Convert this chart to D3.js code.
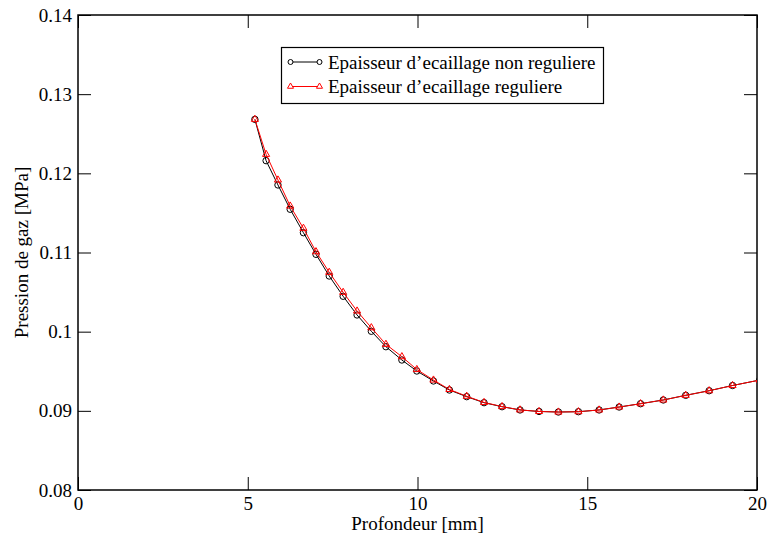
<!DOCTYPE html>
<html>
<head>
<meta charset="utf-8">
<script src="https://cdn.jsdelivr.net/npm/d3@7"></script>
<style>
  html, body { margin: 0; padding: 0; background: #fff; }
  svg { display: block; }
  text { font-family: "Liberation Serif", "Times New Roman", serif; fill: #000; }
</style>
</head>
<body>
<svg id="chart" width="767" height="536"></svg>
<script>
// ---- data ----
const depth = [5.21, 5.54, 5.89, 6.25, 6.64, 7.01, 7.40, 7.81, 8.22, 8.64, 9.07, 9.54, 9.98, 10.47, 10.94, 11.45, 11.96, 12.49, 13.02, 13.58, 14.15, 14.74, 15.35, 15.94, 16.57, 17.24, 17.90, 18.59, 19.28, 20.08];
const pressNonReg = [0.12682, 0.12160, 0.11853, 0.11546, 0.11250, 0.10977, 0.10703, 0.10447, 0.10211, 0.10005, 0.09810, 0.09642, 0.09503, 0.09377, 0.09263, 0.09179, 0.09103, 0.09052, 0.09011, 0.08992, 0.08985, 0.08989, 0.09011, 0.09048, 0.09090, 0.09137, 0.09196, 0.09254, 0.09320, 0.09389];
const pressReg = [0.12682, 0.12240, 0.11916, 0.11587, 0.11306, 0.11010, 0.10750, 0.10497, 0.10261, 0.10050, 0.09840, 0.09684, 0.09522, 0.09389, 0.09270, 0.09184, 0.09106, 0.09054, 0.09012, 0.08992, 0.08985, 0.08989, 0.09011, 0.09048, 0.09090, 0.09137, 0.09196, 0.09254, 0.09320, 0.09389];
const seriesNames = ["Epaisseur d\u2019ecaillage non reguliere", "Epaisseur d\u2019ecaillage reguliere"];
const xTicks = [0, 5, 10, 15, 20];
const xTickLabels = ["0", "5", "10", "15", "20"];
const yTicks = [0.08, 0.09, 0.10, 0.11, 0.12, 0.13, 0.14];
const yTickLabels = ["0.08", "0.09", "0.1", "0.11", "0.12", "0.13", "0.14"];
const xLabel = "Profondeur [mm]";
const yLabel = "Pression de gaz [MPa]";

// ---- layout ----
const L = 78, R = 757, T = 15, B = 490;
const svg = d3.select("#chart");
const x = d3.scaleLinear().domain([0, 20]).range([L, R]);
const y = d3.scaleLinear().domain([0.08, 0.14]).range([B, T]);
const FS = 19;

svg.append("defs").append("clipPath").attr("id", "clip")
  .append("rect").attr("x", L).attr("y", T).attr("width", R - L).attr("height", B - T);

// axes
const tick = 13;
const gB = svg.append("g").attr("transform", `translate(0,${B})`)
  .call(d3.axisBottom(x).tickValues(xTicks).tickFormat((d, i) => xTickLabels[i]).tickSizeInner(-tick).tickSizeOuter(0).tickPadding(6.5));
const gT = svg.append("g").attr("transform", `translate(0,${T})`)
  .call(d3.axisTop(x).tickValues(xTicks).tickFormat("").tickSizeInner(-tick).tickSizeOuter(0));
const gL = svg.append("g").attr("transform", `translate(${L},0)`)
  .call(d3.axisLeft(y).tickValues(yTicks).tickFormat((d, i) => yTickLabels[i]).tickSizeInner(-tick).tickSizeOuter(0).tickPadding(6));
const gR = svg.append("g").attr("transform", `translate(${R},0)`)
  .call(d3.axisRight(y).tickValues(yTicks).tickFormat("").tickSizeInner(-tick).tickSizeOuter(0));
[gB, gT, gL, gR].forEach(g => {
  g.select(".domain").remove();
  g.selectAll(".tick line").attr("stroke", "#000").attr("stroke-width", 1);
  g.selectAll("text").attr("font-family", "Liberation Serif").attr("font-size", FS).attr("fill", "#000");
});

// frame
svg.append("rect").attr("x", L).attr("y", T).attr("width", R - L).attr("height", B - T)
  .attr("fill", "none").attr("stroke", "#000").attr("stroke-width", 1.5);

// axis labels
svg.append("text").attr("x", (L + R) / 2).attr("y", 530).attr("text-anchor", "middle")
  .attr("font-size", FS).text(xLabel);
svg.append("text").attr("transform", `translate(28,${(T + B) / 2}) rotate(-90)`).attr("text-anchor", "middle")
  .attr("font-size", FS).text(yLabel);

// series
const plot = svg.append("g").attr("clip-path", "url(#clip)");
const line = d3.line().x(d => x(d[0])).y(d => y(d[1]));
const dataNR = depth.map((d, i) => [d, pressNonReg[i]]);
const dataR = depth.map((d, i) => [d, pressReg[i]]);
const tri = d3.symbol().type(d3.symbolTriangle).size(22);

plot.append("path").datum(dataNR).attr("d", line).attr("fill", "none").attr("stroke", "#000").attr("stroke-width", 1);
plot.selectAll("circle.nr").data(dataNR).join("circle").attr("class", "nr")
  .attr("cx", d => x(d[0])).attr("cy", d => y(d[1])).attr("r", 3.2)
  .attr("fill", "none").attr("stroke", "#000").attr("stroke-width", 1);

plot.append("path").datum(dataR).attr("d", line).attr("fill", "none").attr("stroke", "#ff0000").attr("stroke-width", 1);
plot.selectAll("path.r").data(dataR).join("path").attr("class", "r")
  .attr("transform", d => `translate(${x(d[0])},${y(d[1])})`).attr("d", tri)
  .attr("fill", "none").attr("stroke", "#ff0000").attr("stroke-width", 1);

// legend
const lg = svg.append("g");
lg.append("rect").attr("x", 281.5).attr("y", 47.5).attr("width", 322).attr("height", 56)
  .attr("fill", "#fff").attr("stroke", "#000").attr("stroke-width", 1.2);
const rows = [62, 86.5];
// row 1
lg.append("line").attr("x1", 290.5).attr("x2", 319.5).attr("y1", rows[0]).attr("y2", rows[0]).attr("stroke", "#000");
[290.5, 319.5].forEach(cx => lg.append("circle").attr("cx", cx).attr("cy", rows[0]).attr("r", 2.5).attr("fill", "#fff").attr("stroke", "#000"));
lg.append("text").attr("x", 328).attr("y", rows[0] + 6.5).attr("font-size", FS).text(seriesNames[0]);
// row 2
lg.append("line").attr("x1", 290.5).attr("x2", 319.5).attr("y1", rows[1]).attr("y2", rows[1]).attr("stroke", "#ff0000");
const triS = d3.symbol().type(d3.symbolTriangle).size(16);
[290.5, 319.5].forEach(cx => lg.append("path").attr("transform", `translate(${cx},${rows[1]})`).attr("d", triS).attr("fill", "#fff").attr("stroke", "#ff0000"));
lg.append("text").attr("x", 328).attr("y", rows[1] + 6.5).attr("font-size", FS).text(seriesNames[1]);
</script>
</body>
</html>
